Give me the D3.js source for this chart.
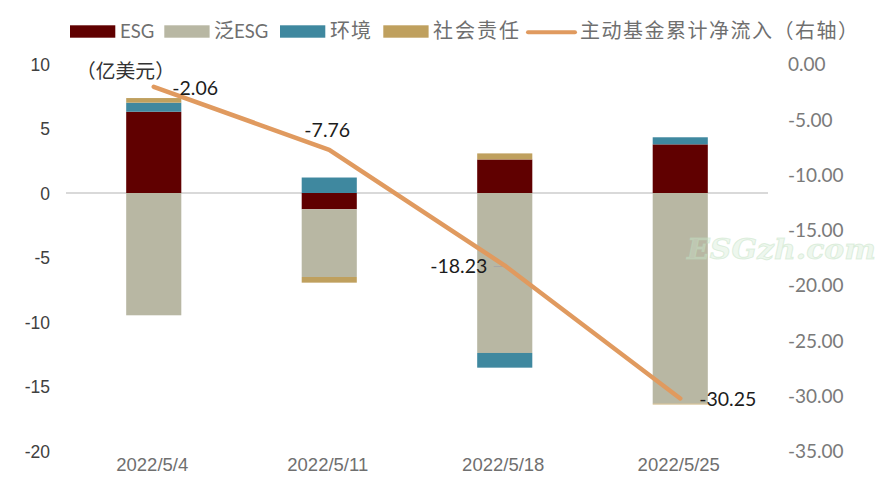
<!DOCTYPE html>
<html><head><meta charset="utf-8">
<script src="https://cdn.jsdelivr.net/npm/d3@7"></script>
<style>html,body{margin:0;padding:0;background:#fff}svg{display:block}text{font-kerning:normal}</style>
</head><body><svg id="c" width="882" height="486"></svg>
<script>
const categories = ["2022/5/4","2022/5/11","2022/5/18","2022/5/25"];
const esg = [6.3,-1.26,2.6,3.77];
const broadEsg = [-9.48,-5.25,-12.4,-16.33];
const environment = [0.7,1.2,-1.14,0.55];
const social = [0.36,-0.44,0.47,-0.06];
const cumulativeFlow = [-2.06,-7.76,-18.23,-30.25];
const seriesNames = ["ESG","泛ESG","环境","社会责任","主动基金累计净流入（右轴）"];
const leftTicks = [10,5,0,-5,-10,-15,-20];
const rightTicks = [0,-5,-10,-15,-20,-25,-30,-35];
const unitLabel = "（亿美元）";
const watermark = "ESGzh.com";

const colors = ["#600000","#B8B7A3","#3F889F","#BFA05E","#E09A5F"];
const cjk = "'Noto Sans CJK SC',sans-serif";
const arial = "'Liberation Sans',Arial,sans-serif";
const hy = s => s.replace(/[−\u2212]/g,"-");
const svg = d3.select("#c");

const x = d3.scaleBand().domain(categories).range([66,768]).paddingInner(0.686).paddingOuter(0.343);
const yL = d3.scaleLinear().domain([-20,10]).range([451,64]);
const yR = d3.scaleLinear().domain([-35,0]).range([451,64]);

// zero line
svg.append("line").attr("x1",66).attr("x2",768).attr("y1",yL(0)).attr("y2",yL(0))
  .attr("stroke","#D9D9D9").attr("stroke-width",2);

// stacked bars
const rows = categories.map((c,i)=>({c,a:esg[i],b:broadEsg[i],e:environment[i],s:social[i]}));
const stack = d3.stack().keys(["a","b","e","s"]).offset(d3.stackOffsetDiverging)(rows);
svg.append("g").selectAll("g").data(stack).join("g").attr("fill",(d,i)=>colors[i])
  .selectAll("rect").data(d=>d).join("rect")
  .attr("x",d=>x(d.data.c)).attr("width",x.bandwidth())
  .attr("y",d=>yL(Math.max(d[0],d[1]))).attr("height",d=>Math.abs(yL(d[0])-yL(d[1])));

// leader line for the third label
const px = categories.map(c=>x(c)+x.bandwidth()/2);
svg.append("line").attr("x1",px[2]-11).attr("x2",px[2]+3)
  .attr("y1",yR(cumulativeFlow[2])+1).attr("y2",yR(cumulativeFlow[2])+1)
  .attr("stroke","#A6A6A6").attr("stroke-width",1);

// line
const line = d3.line().x((d,i)=>px[i]).y(d=>yR(d));
svg.append("path").attr("d",line(cumulativeFlow)).attr("fill","none")
  .attr("stroke",colors[4]).attr("stroke-width",4.5).attr("stroke-linecap","round").attr("stroke-linejoin","round");

// axes labels
const gl = svg.append("g").call(d3.axisLeft(yL).tickValues(leftTicks).tickSize(0).tickFormat(d=>hy(String(d))));
gl.attr("transform","translate(56,0)");
gl.select(".domain").remove();
gl.selectAll("text").attr("x",-6).attr("dy","0.36em").attr("font-family",arial).attr("font-size",17.5).attr("fill","#404040");

const gr = svg.append("g").call(d3.axisRight(yR).tickValues(rightTicks).tickSize(0).tickFormat(d=>hy(d.toFixed(2))));
gr.attr("transform","translate(788,0)");
gr.select(".domain").remove();
gr.selectAll("text").attr("x",0).attr("text-anchor","start").attr("dy","0.36em").attr("font-family","Lato,sans-serif").attr("font-size",19).attr("fill","#7a7a7a");

const gx = svg.append("g").call(d3.axisBottom(x).tickSize(0));
gx.attr("transform","translate(-1.5,452)");
gx.select(".domain").remove();
gx.selectAll("text").attr("y",0).attr("dy","1.02em").attr("font-family",arial).attr("font-size",18.5).attr("fill","#6f6f6f");

// data labels
const labelDx = [18.5,-2,-74.5,19];
const labelDy = [1,-19.5,0,0.5];
const labelAnchor = ["start","middle","start","start"];
svg.append("g").selectAll("text").data(cumulativeFlow).join("text")
  .attr("x",(d,i)=>px[i]+labelDx[i]).attr("y",(d,i)=>yR(d)+labelDy[i]).attr("dy","0.36em")
  .attr("text-anchor",(d,i)=>labelAnchor[i])
  .attr("font-family","Lato,sans-serif").attr("font-size",19.5).attr("fill","#1c1c1c")
  .text(d=>hy(d.toFixed(2)));

svg.append("text").attr("x",76).attr("y",78).attr("font-family",cjk).attr("font-size",19.8).attr("fill","#333").text(unitLabel);

// legend
const leg = svg.append("g");
const swX = [70,164.3,280,383.3]; const txX = [120,214,330,433];
function legendText(sel,n){
  n.split(/(ESG)/).filter(Boolean).forEach(p=>{
    const t = sel.append("tspan").text(p);
    if(p==="ESG") t.attr("font-family","Lato,sans-serif").attr("font-size",18.5);
  });
}
seriesNames.slice(0,4).forEach((n,i)=>{
  leg.append("rect").attr("x",swX[i]).attr("y",25.3).attr("width",45.3).attr("height",12.4).attr("fill",colors[i]);
  const t = leg.append("text").attr("x",txX[i]).attr("y",38).attr("font-family",cjk).attr("font-size",20).attr("fill","#6f6f6f").attr("letter-spacing",n.includes("ESG")?0:(n.length==4?2:1));
  legendText(t,n);
});
leg.append("line").attr("x1",528).attr("x2",575).attr("y1",32.3).attr("y2",32.3).attr("stroke",colors[4]).attr("stroke-width",4).attr("stroke-linecap","round");
leg.append("text").attr("x",580).attr("y",38).attr("font-family",cjk).attr("font-size",20).attr("fill","#6f6f6f").attr("letter-spacing",1.5).text(seriesNames[4]);

// watermark on top
svg.append("text").attr("x",687).attr("y",259).text(watermark)
  .attr("font-family","'DejaVu Serif',serif").attr("font-style","italic").attr("font-weight","bold")
  .attr("font-size",28).attr("textLength",189).attr("lengthAdjust","spacingAndGlyphs")
  .attr("fill","#cfe8cf").attr("fill-opacity",0.35).attr("stroke","#bfe0bf").attr("stroke-opacity",0.45).attr("stroke-width",1);
</script></body></html>
